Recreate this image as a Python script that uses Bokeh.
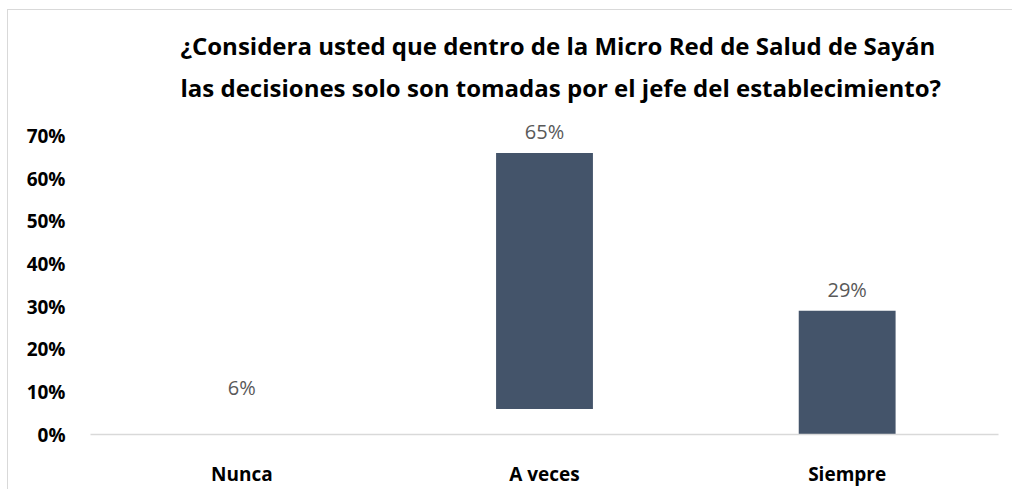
from bokeh.plotting import figure
from bokeh.models import ColumnDataSource, FactorRange, Range1d, FixedTicker, PrintfTickFormatter, Title, Spacer
from bokeh.layouts import column, row
from bokeh.core.properties import value
from bokeh.embed import file_html
from bokeh.resources import INLINE

categories = ["Nunca", "A veces", "Siempre"]
bar_bottom = [0, 6, 0]
bar_top = [6, 66, 29]
label_values = [6, 65, 29]
label_texts = ["6%", "65%", "29%"]
bar_colors = ["#ffffff", "#44546a", "#44546a"]
y_ticks = [0, 10, 20, 30, 40, 50, 60, 70]
title_lines = ["¿Considera usted que dentro de la Micro Red de Salud de Sayán",
               "las decisiones solo son tomadas por el jefe del establecimiento?"]

FONT = "Open Sans"

src = ColumnDataSource(dict(cat=categories, bottom=bar_bottom, top=bar_top,
                            txt=label_texts, color=bar_colors))

p = figure(width=1004, height=479, x_range=FactorRange(*categories, range_padding=0),
           y_range=Range1d(0, 75), output_backend="svg", toolbar_location=None,
           min_border_left=82, min_border_right=14, min_border_bottom=54, min_border_top=104)
p.title = None

p.vbar(x="cat", bottom="bottom", top="top", width=0.32, fill_color="color",
       line_color=None, source=src)
p.text(x="cat", y="top", text="txt", source=src, text_align="center",
       text_baseline="middle", y_offset=-21, text_color="#595959",
       text_font=value(FONT), text_font_size="20px")

t = Title(text="\n".join(title_lines), align="left", offset=90, text_font=FONT,
          text_font_size="24px", text_font_style="bold", text_color="#000000",
          text_line_height=1.27, standoff=21)
p.add_layout(t, "above")

p.outline_line_color = None
p.background_fill_color = "#ffffff"
p.border_fill_color = "#ffffff"
p.xgrid.grid_line_color = None
p.ygrid.grid_line_color = None

p.yaxis.ticker = FixedTicker(ticks=y_ticks)
p.yaxis.formatter = PrintfTickFormatter(format="%d%%")
p.yaxis.axis_line_color = None
p.yaxis.major_tick_line_color = None
p.yaxis.minor_tick_line_color = None
p.yaxis.major_label_standoff = 19
p.yaxis.major_label_text_font = FONT
p.yaxis.major_label_text_font_style = "bold"
p.yaxis.major_label_text_font_size = "19px"
p.yaxis.major_label_text_color = "#000000"

p.xaxis.axis_line_color = "#d9d9d9"
p.xaxis.axis_line_width = 1.5
p.xaxis.major_tick_line_color = None
p.xaxis.minor_tick_line_color = None
p.xaxis.major_label_standoff = 20
p.xaxis.major_label_text_font = FONT
p.xaxis.major_label_text_font_style = "bold"
p.xaxis.major_label_text_font_size = "19px"
p.xaxis.major_label_text_color = "#000000"

top_line = Spacer(width=1005, height=1, styles={"background-color": "#d9d9d9"})
left_line = Spacer(width=1, height=479, styles={"background-color": "#d9d9d9"})
layout = column(top_line, row(left_line, p, spacing=0), spacing=0)
layout.margin = (9, 0, 0, 7)

open("out.html", "w").write(file_html(layout, INLINE))
